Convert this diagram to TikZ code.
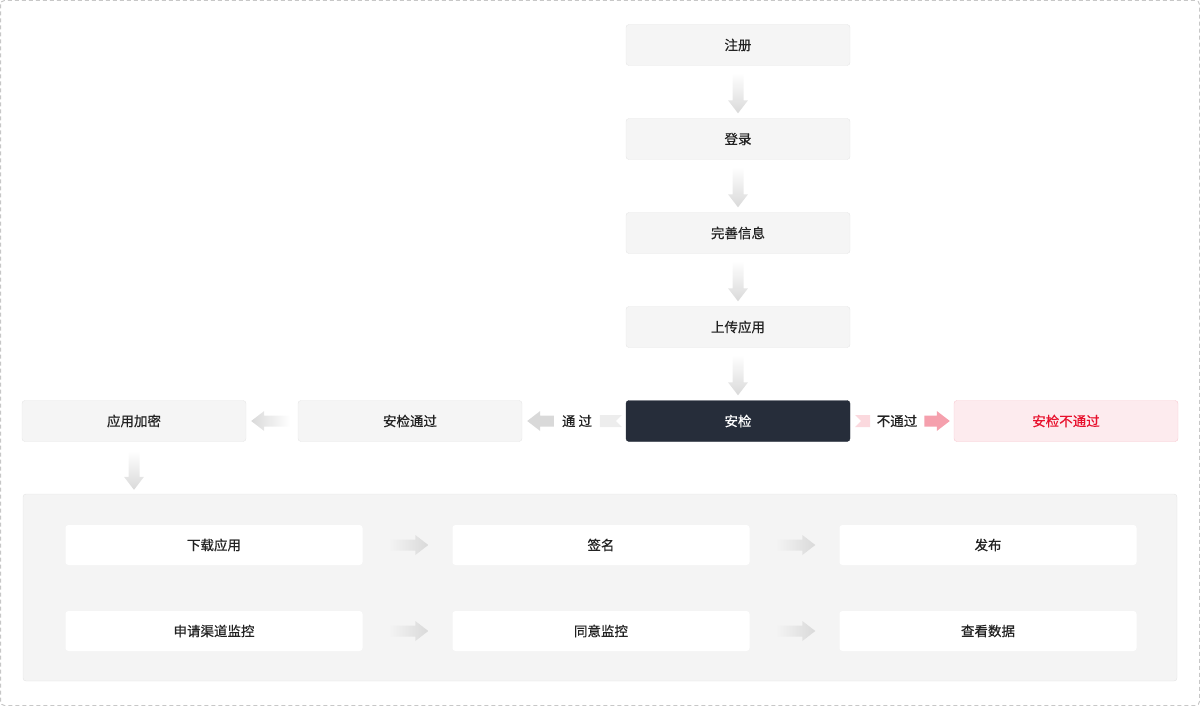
\documentclass[tikz,border=0pt]{standalone}
\usepackage{fontspec}
\setmainfont{Noto Sans CJK SC}[FakeBold=0.5]
\usetikzlibrary{calc}
\definecolor{stepfill}{HTML}{F5F5F5}
\definecolor{stepline}{HTML}{E6E6E6}
\definecolor{panelfill}{HTML}{F4F4F4}
\definecolor{panelline}{HTML}{E4E4E4}
\definecolor{checkfill}{HTML}{262D3A}
\definecolor{failfill}{HTML}{FDEBEE}
\definecolor{failline}{HTML}{F8C8D0}
\definecolor{failtext}{HTML}{E8112D}
\definecolor{arrgray}{HTML}{D9D9D9}
\definecolor{tailgray}{HTML}{EDEDED}
\definecolor{arrpink}{HTML}{F5A0AD}
\definecolor{tailpink}{HTML}{FBD9DE}
\definecolor{textdark}{HTML}{222222}
\def\flowarrow[#1]#2#3{
	\coordinate (fa-s) at (#2); \coordinate (fa-e) at (#3);
	\coordinate (fa-h) at ($(fa-e)!13pt!(fa-s)$);
	\path[#1] ($(fa-s)!5.5pt!90:(fa-e)$) -- ($(fa-h)!5.5pt!-90:(fa-s)$) -- ($(fa-h)!10pt!-90:(fa-s)$) -- (fa-e)
		-- ($(fa-h)!10pt!90:(fa-s)$) -- ($(fa-h)!5.5pt!90:(fa-s)$) -- ($(fa-s)!5.5pt!-90:(fa-e)$) -- cycle;}

\begin{document}
\begin{tikzpicture}[x=1pt,y=-1pt,
		every node/.style={font=\fontsize{13.5pt}{15pt}\selectfont, text=textdark, inner sep=0pt},
		stepbox/.style={draw=stepline, fill=stepfill, rounded corners=3pt, minimum width=224pt, minimum height=41pt},
		subbox/.style={fill=white, rounded corners=3pt, minimum width=297pt, minimum height=40pt}]
				\useasboundingbox (0,0) rectangle (1200,706);
				\draw[draw=black!22, line width=1pt, dash pattern=on 4pt off 3pt, rounded corners=4pt] (0.5,0.5) rectangle (1199.5,705.5);
				
				\node[stepbox] (reg) at (738,45) {注册};
				\node[stepbox] (login) at (738,139) {登录};
				\node[stepbox] (info) at (738,233) {完善信息};
				\node[stepbox] (upload) at (738,327) {上传应用};
				\node[stepbox, draw=checkfill, fill=checkfill, text=white] (check) at (738,421) {安检};
				\node[stepbox, draw=failline, fill=failfill, text=failtext] (fail) at (1066,421) {安检不通过};
				\node[stepbox] (pass) at (410,421) {安检通过};
				\node[stepbox] (encrypt) at (134,421) {应用加密};
				
				\node[draw=panelline, fill=panelfill, rounded corners=3pt, minimum width=1154pt, minimum height=187pt] (panel) at (600,587.5) {};
				\node[subbox] (download) at (214,545) {下载应用};
				\node[subbox] (sign) at (601,545) {签名};
				\node[subbox] (publish) at (988,545) {发布};
				\node[subbox] (apply) at (214,631) {申请渠道监控};
				\node[subbox] (agree) at (601,631) {同意监控};
				\node[subbox] (data) at (988,631) {查看数据};
				
				% down the main line
				\flowarrow[top color=white, bottom color=arrgray]{$(reg.south)+(0,7)$}{$(login.north)+(0,-5)$}
				\flowarrow[top color=white, bottom color=arrgray]{$(login.south)+(0,7)$}{$(info.north)+(0,-5)$}
				\flowarrow[top color=white, bottom color=arrgray]{$(info.south)+(0,7)$}{$(upload.north)+(0,-5)$}
				\flowarrow[top color=white, bottom color=arrgray]{$(upload.south)+(0,7)$}{$(check.north)+(0,-5)$}
				
				% passed
				\fill[tailgray] ($(check.west)+(-26,-6)$) -- ($(check.west)+(-4,-6)$) -- ($(check.west)+(-10,0)$) -- ($(check.west)+(-4,6)$) -- ($(check.west)+(-26,6)$) -- cycle;
				\node (passlbl) at (577,421) {通 过};
				\flowarrow[fill=arrgray]{$(passlbl.west)+(-8,0)$}{$(pass.east)+(5,0)$}
				
				% failed
				\fill[tailpink] ($(check.east)+(5,-6)$) -- ($(check.east)+(20,-6)$) -- ($(check.east)+(20,6)$) -- ($(check.east)+(5,6)$) -- ($(check.east)+(11,0)$) -- cycle;
				\node (faillbl) at (897,421) {不通过};
				\flowarrow[fill=arrpink]{$(faillbl.east)+(7,0)$}{$(fail.west)+(-4,0)$}
				
				\flowarrow[left color=arrgray, right color=white]{$(pass.west)+(-8,0)$}{$(encrypt.east)+(5,0)$}
				\flowarrow[top color=white, bottom color=arrgray]{$(encrypt.south)+(0,9)$}{$(encrypt.south |- panel.north)+(0,-4)$}
				
				% inside the panel
				\flowarrow[left color=panelfill, right color=arrgray]{$(download.east)+(26,0)$}{$(sign.west)+(-24,0)$}
				\flowarrow[left color=panelfill, right color=arrgray]{$(sign.east)+(26,0)$}{$(publish.west)+(-24,0)$}
				\flowarrow[left color=panelfill, right color=arrgray]{$(apply.east)+(26,0)$}{$(agree.west)+(-24,0)$}
				\flowarrow[left color=panelfill, right color=arrgray]{$(agree.east)+(26,0)$}{$(data.west)+(-24,0)$}
			\end{tikzpicture}
\end{document}
